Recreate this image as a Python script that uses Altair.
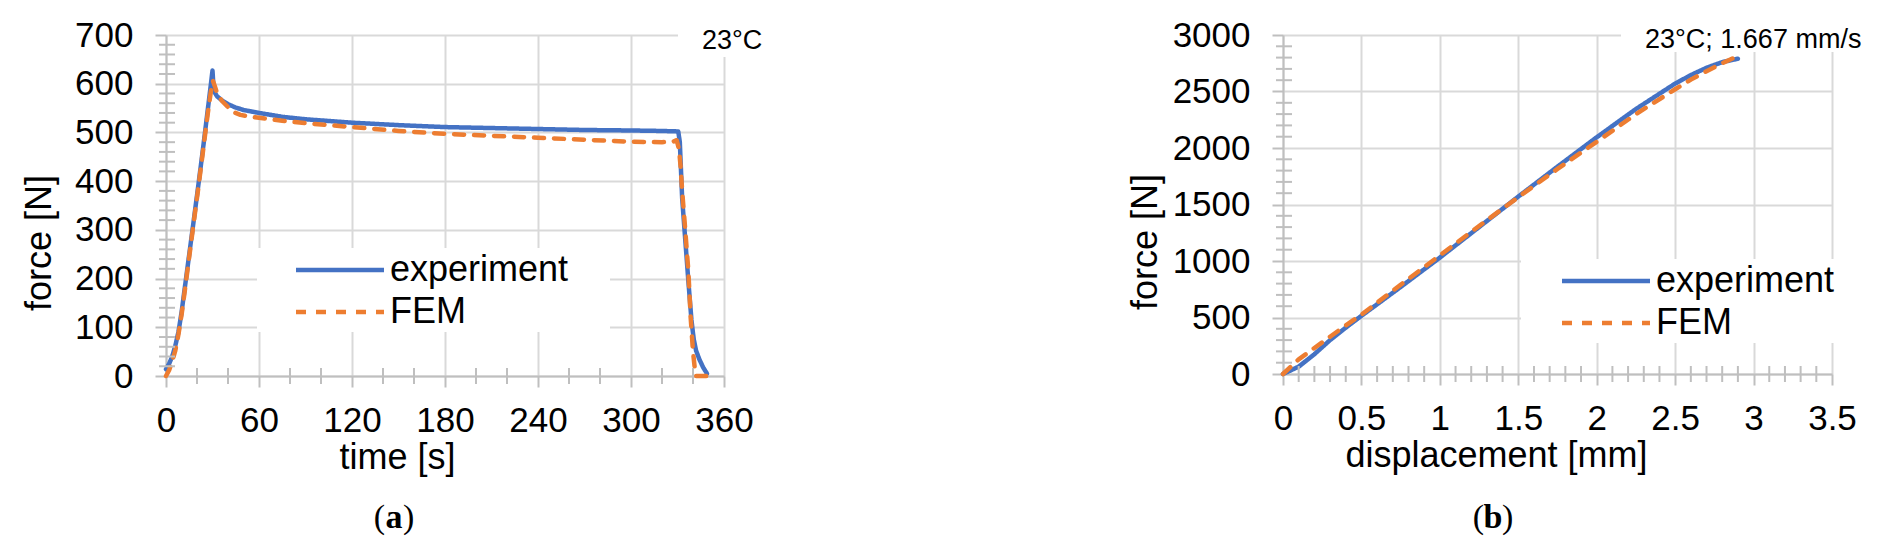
import altair as alt
import pandas as pd

SERIES = ["experiment", "FEM"]
COLORS = ["#4472C4", "#ED7D31"]
DASHES = [[1, 0], [10, 10]]

# ---------------- panel (a): force vs time ----------------
a_exp_t = [0, 2, 4, 6, 8, 10, 12, 15, 18, 21, 24, 27, 29, 30, 30.8, 33, 36, 40, 45, 50,
           60, 75, 90, 120, 150, 180, 210, 240, 270, 300, 320, 330.5, 331.5, 333, 335,
           337, 339, 340.5, 342, 344, 346.5, 349]
a_exp_f = [14, 25, 40, 62, 90, 130, 178, 250, 322, 395, 470, 548, 600, 627, 585, 574, 566,
           558, 551, 546, 540, 532, 527, 520, 515, 511, 509, 507, 505, 504, 503, 502, 480,
           365, 280, 195, 115, 75, 52, 35, 18, 5]
a_fem_t = [0, 2, 4, 6, 8, 10, 12, 15, 18, 21, 24, 27, 29, 30.3, 31.5, 33, 36, 40, 44, 48,
           55, 60, 75, 90, 120, 150, 180, 210, 240, 270, 300, 320, 327, 329.5, 331, 332,
           333, 335, 337, 338.5, 340, 341.5, 342, 349]
a_fem_f = [0, 12, 30, 52, 85, 125, 172, 245, 318, 390, 465, 540, 585, 606, 595, 580, 565,
           552, 541, 536, 532, 530, 524, 519, 511, 503, 497, 493, 489, 485, 481, 480, 481,
           484, 465, 430, 380, 300, 215, 120, 50, 5, 0, 0]
a_x_ticks = [0, 60, 120, 180, 240, 300, 360]
a_y_ticks = [0, 100, 200, 300, 400, 500, 600, 700]
a_x_minor = [v for v in range(0, 361, 20) if v % 60]
a_y_minor = [v for v in range(0, 701, 20) if v % 100]

# ---------------- panel (b): force vs displacement ----------------
b_exp_d = [0, 0.1, 0.2, 0.3, 0.4, 0.5, 0.75, 1.0, 1.25, 1.5, 1.75, 2.0, 2.25, 2.5, 2.6,
           2.7, 2.8, 2.9]
b_exp_f = [0, 65, 175, 300, 410, 515, 770, 1030, 1300, 1570, 1835, 2095, 2345, 2570, 2645,
           2710, 2760, 2790]
b_fem_d = [0, 0.1, 0.2, 0.3, 0.4, 0.5, 0.75, 1.0, 1.25, 1.5, 1.75, 2.0, 2.25, 2.5, 2.6,
           2.7, 2.8, 2.9]
b_fem_f = [0, 130, 230, 330, 430, 525, 790, 1050, 1310, 1565, 1815, 2055, 2300, 2520, 2605,
           2680, 2750, 2815]
b_x_ticks = [0, 0.5, 1, 1.5, 2, 2.5, 3, 3.5]
b_y_ticks = [0, 500, 1000, 1500, 2000, 2500, 3000]
b_x_minor = [round(i * 0.1, 1) for i in range(36) if i % 5]
b_y_minor = [v for v in range(0, 3001, 100) if v % 500]

FONT = "Liberation Sans"
GRID = "#d9d9d9"
AXC = "#bfbfbf"


def panel(exp_x, exp_y, fem_x, fem_y, xt, yt, xminor, yminor, xtitle, W, H,
          xfmt, yfmt, leg_xy, xtitle_x, ytitle_pad, note, note_xy, note_box,
          leg_box, letter, letter_x):
    df = pd.concat([
        pd.DataFrame({"x": exp_x, "y": exp_y, "s": SERIES[0], "i": range(len(exp_x))}),
        pd.DataFrame({"x": fem_x, "y": fem_y, "s": SERIES[1], "i": range(len(fem_x))}),
    ])
    xs = alt.Scale(domain=[xt[0], xt[-1]], nice=False, zero=False)
    ys = alt.Scale(domain=[yt[0], yt[-1]], nice=False)
    cs = alt.Scale(domain=SERIES, range=COLORS)
    ds = alt.Scale(domain=SERIES, range=DASHES)
    # symbol path is 8 units wide: scaled by sqrt(size)/2 = 11 -> 88 px long line
    leg = alt.Legend(orient="none", legendX=leg_xy[0] + 27, legendY=leg_xy[1], title=None,
                     symbolType="M-4,0H4", symbolSize=484, symbolStrokeWidth=4.5,
                     labelFont=FONT, labelFontSize=36, labelColor="black",
                     labelOffset=32, rowPadding=6, padding=0, labelLimit=400)
    xaxis = alt.Axis(values=xt, format=xfmt, title=xtitle, titleX=xtitle_x,
                     labelPadding=16, titlePadding=2, labelFlush=False,
                     labelOverlap=False)
    yaxis = alt.Axis(values=yt, format=yfmt, title="force [N]", titleY=H / 2 + 37,
                     labelPadding=22, titlePadding=ytitle_pad, labelFlush=False,
                     labelOverlap=False)

    box_df = pd.DataFrame({"k": [0]})
    legbox = alt.Chart(box_df).mark_rect(color="white").encode(
        x=alt.value(leg_box[0]), x2=alt.value(leg_box[1]),
        y=alt.value(leg_box[2]), y2=alt.value(leg_box[3]))
    notebox = alt.Chart(box_df).mark_rect(color="white").encode(
        x=alt.value(note_box[0]), x2=alt.value(note_box[1]),
        y=alt.value(note_box[2]), y2=alt.value(note_box[3]))

    ymin = alt.Chart(pd.DataFrame({"y": yminor})).mark_rule(color=AXC, strokeWidth=2).encode(
        y=alt.Y("y:Q", scale=ys, axis=yaxis), x=alt.value(-7), x2=alt.value(9))
    xmin = alt.Chart(pd.DataFrame({"x": xminor})).mark_rule(color=AXC, strokeWidth=2).encode(
        x=alt.X("x:Q", scale=xs, axis=xaxis), y=alt.value(H - 8), y2=alt.value(H + 8))

    def line(name):
        return alt.Chart(df[df["s"] == name]).mark_line(
            strokeWidth=4.5, strokeCap="round", strokeJoin="round").encode(
            x=alt.X("x:Q", scale=xs, axis=xaxis),
            y=alt.Y("y:Q", scale=ys, axis=yaxis),
            color=alt.Color("s:N", scale=cs, legend=leg),
            strokeDash=alt.StrokeDash("s:N", scale=ds, legend=leg),
            order="i:Q")

    note_t = alt.Chart(pd.DataFrame({"t": [note]})).mark_text(
        font=FONT, fontSize=27, align="left", baseline="alphabetic", color="black").encode(
        x=alt.value(note_xy[0]), y=alt.value(note_xy[1]), text="t:N")

    lab = pd.DataFrame({"o": ["("], "m": [letter], "c": [")"]})
    base_y = 493
    lo = alt.Chart(lab).mark_text(font="Liberation Serif", fontSize=34, align="right",
                                  baseline="alphabetic", color="black").encode(
        x=alt.value(letter_x - 9), y=alt.value(base_y), text="o:N")
    lm = alt.Chart(lab).mark_text(font="Liberation Serif", fontSize=34, fontWeight="bold",
                                  align="center", baseline="alphabetic", color="black").encode(
        x=alt.value(letter_x), y=alt.value(base_y), text="m:N")
    lc = alt.Chart(lab).mark_text(font="Liberation Serif", fontSize=34, align="left",
                                  baseline="alphabetic", color="black").encode(
        x=alt.value(letter_x + 9), y=alt.value(base_y), text="c:N")

    return alt.layer(legbox, notebox, line(SERIES[0]), line(SERIES[1]), ymin, xmin,
                     note_t, lo, lm, lc).properties(width=W, height=H)


pa = panel(a_exp_t, a_exp_f, a_fem_t, a_fem_f, a_x_ticks, a_y_ticks, a_x_minor, a_y_minor,
           "time [s]", 558, 341, "d", "d", (129, 217), 231, 16, "23°C", (536, 14),
           (512, 566, -12, 22), (91, 444, 213, 297), "a", 228)
pb = panel(b_exp_d, b_exp_f, b_fem_d, b_fem_f, b_x_ticks, b_y_ticks, b_x_minor, b_y_minor,
           "displacement [mm]", 549, 339, "~g", "d", (278, 228), 213, 8,
           "23°C; 1.667 mm/s", (362, 13), (338, 559, -12, 17), (238, 551, 224, 308), "b", 210)

chart = alt.hconcat(pa, pb, spacing=559, bounds="flush").resolve_legend(
    color="independent", strokeDash="independent"
).properties(
    padding={"left": 13, "top": 10, "right": 5, "bottom": 5}, background="white"
).configure_view(stroke=None).configure_axis(
    gridColor=GRID, gridWidth=2, domainColor=AXC, domainWidth=2, tickColor=AXC,
    tickWidth=2, tickSize=11, labelFont=FONT, labelFontSize=35, labelColor="black",
    titleFont=FONT, titleFontSize=36, titleFontWeight="normal", titleColor="black"
)

chart.save("out.html", embed_options={"renderer": "svg", "actions": False})
